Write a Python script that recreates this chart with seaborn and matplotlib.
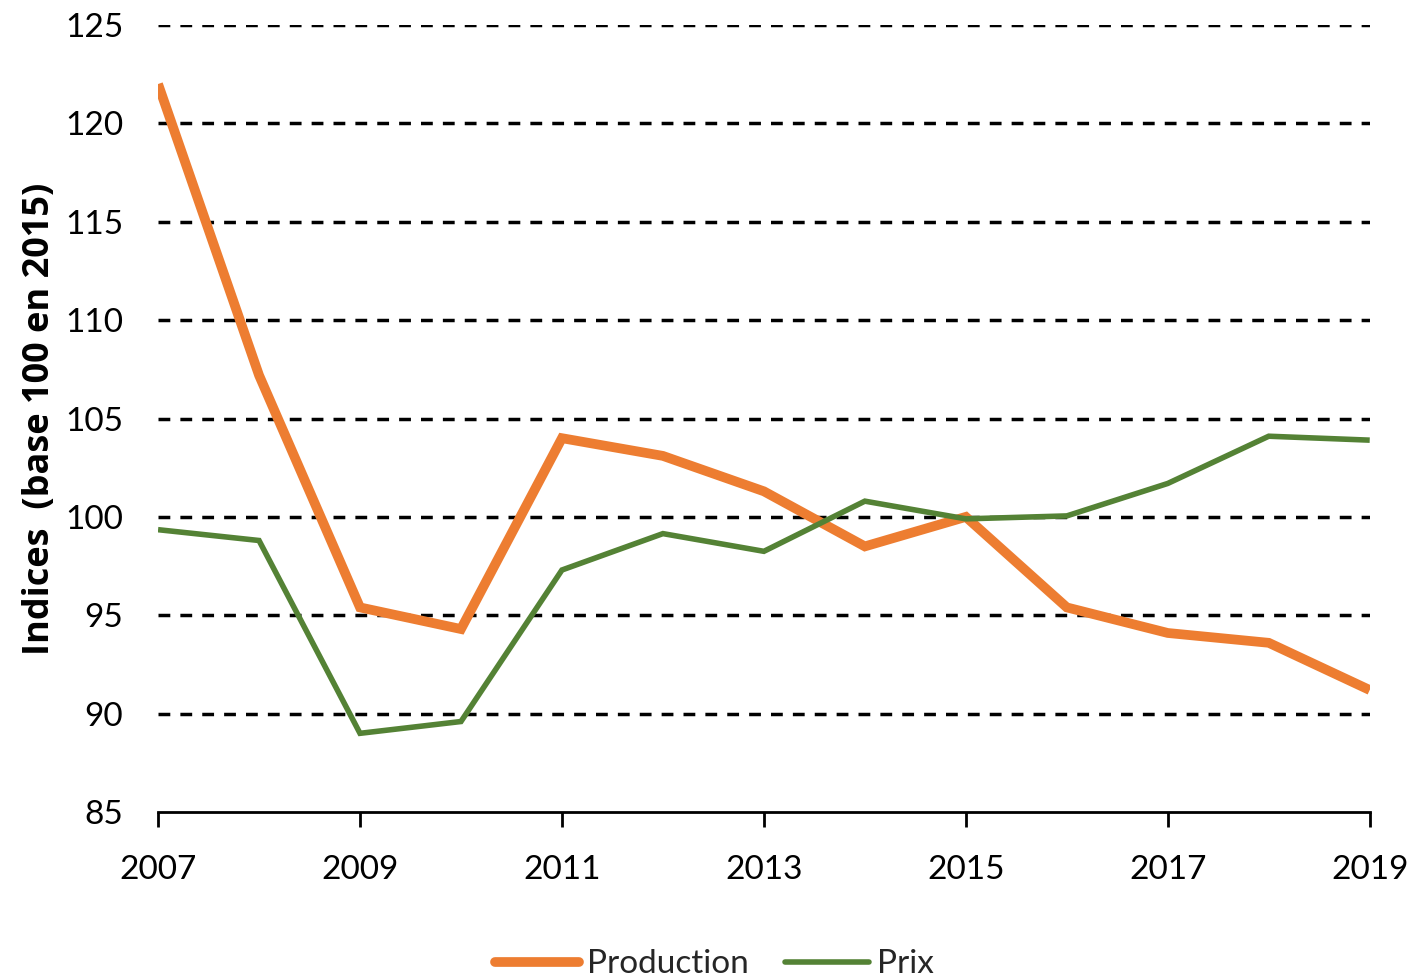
import pandas as pd
import matplotlib.pyplot as plt
import seaborn as sns

# Values (index, base 100 in 2015)
years = list(range(2007, 2020))
production = [122.0, 107.2, 95.4, 94.3, 104.0, 103.1, 101.3, 98.5, 100.0, 95.4, 94.1, 93.6, 91.2]
prix = [99.35, 98.8, 89.0, 89.6, 97.3, 99.15, 98.25, 100.8, 99.9, 100.05, 101.7, 104.1, 103.9]
series_names = ['Production', 'Prix']
colors = {'Production': '#ED7D31', 'Prix': '#548235'}
widths = {'Production': 7.0, 'Prix': 4.0}

df = pd.DataFrame({'year': years * 2,
                   'value': production + prix,
                   'serie': ['Production'] * len(years) + ['Prix'] * len(years)})

sns.set_theme(style="white")
plt.rcParams['font.family'] = ['Lato', 'DejaVu Sans']

fig, ax = plt.subplots(figsize=(14.15, 9.8), dpi=100)
fig.subplots_adjust(left=0.1117, right=0.968, top=0.9745, bottom=0.1714)

sns.lineplot(data=df, x='year', y='value', hue='serie', hue_order=series_names,
             palette=colors, ax=ax, legend=False, solid_capstyle='butt')
for line, name in zip(ax.lines, series_names):
    line.set_linewidth(widths[name])
    line.set_solid_joinstyle('miter')

# dashed horizontal grid
for v in range(90, 126, 5):
    ax.axhline(v, color='black', lw=2.5, ls=(0, (3.4, 2.9)), zorder=0)

ax.set_xlim(2007, 2019)
ax.set_ylim(85, 125)
ax.set_yticks(range(85, 126, 5))
ax.set_xticks(range(2007, 2020, 2))
ax.tick_params(axis='x', direction='out', length=11, width=2, color='black',
               labelsize=24, pad=20, bottom=True)
ax.tick_params(axis='y', length=0, labelsize=24, pad=25)
for lbl in ax.get_xticklabels() + ax.get_yticklabels():
    lbl.set_color('black')

for s in ['left', 'right', 'top']:
    ax.spines[s].set_visible(False)
ax.spines['bottom'].set_color('black')
ax.spines['bottom'].set_linewidth(2)

ax.set_xlabel('')
ax.set_ylabel('Indices  (base 100 en 2015)', fontsize=26, fontweight='bold',
              color='black', labelpad=5, family=['Open Sans', 'DejaVu Sans'])

handles = [plt.Line2D([], [], color=colors[n], lw=widths[n], solid_capstyle='round')
           for n in series_names]
fig.legend(handles, series_names, loc='lower center', bbox_to_anchor=(0.505, -0.03),
           ncol=2, frameon=False, fontsize=24, handlelength=2.5, columnspacing=1.1,
           handletextpad=0.25)

plt.savefig('out.png', dpi=100)
